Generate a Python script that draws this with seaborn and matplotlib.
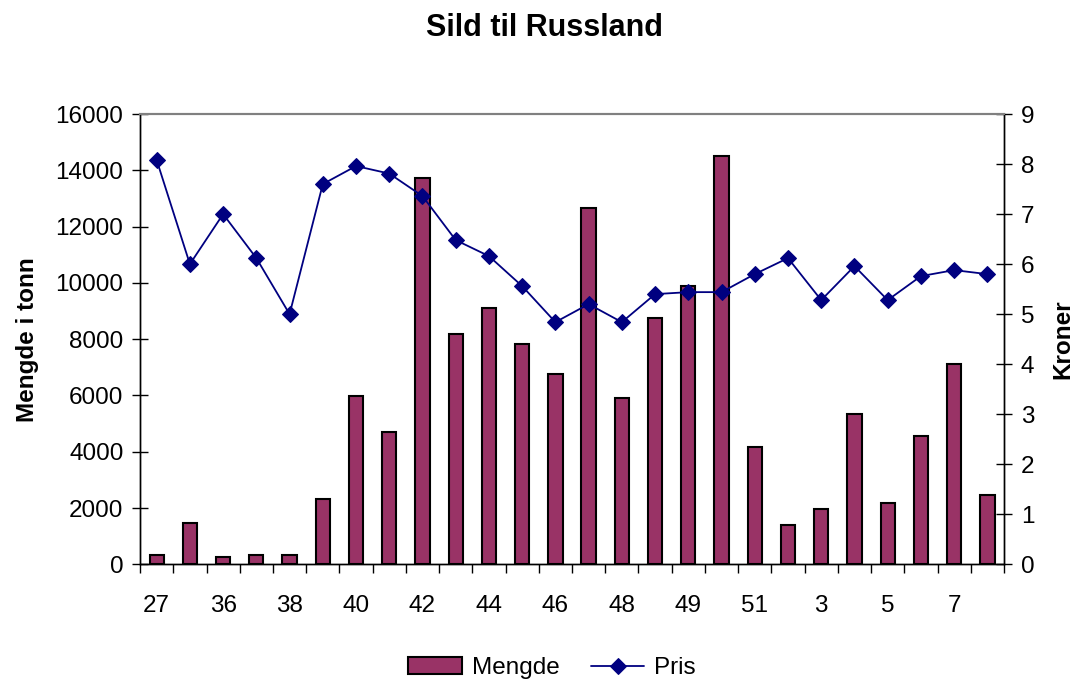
import numpy as np
import pandas as pd
import seaborn as sns
import matplotlib.pyplot as plt
from matplotlib.ticker import FixedLocator

# data (week numbers, tonnes, price in NOK)
uke_labels = ['27', '36', '38', '40', '42', '44', '46', '48', '49', '51', '3', '5', '7']
mengde = [330, 1480, 260, 330, 330, 2330, 5970, 4690, 13730, 8180,
          9110, 7820, 6760, 12660, 5900, 8740, 9900, 14520, 4180, 1410,
          1980, 5330, 2190, 4550, 7110, 2470]
pris = [8.08, 6.00, 7.00, 6.12, 5.00, 7.60, 7.96, 7.81, 7.36, 6.48,
        6.16, 5.56, 4.84, 5.20, 4.84, 5.40, 5.44, 5.44, 5.80, 6.12,
        5.28, 5.96, 5.28, 5.76, 5.88, 5.80]

df = pd.DataFrame({'pos': np.arange(len(mengde)), 'Mengde': mengde, 'Pris': pris})

sns.set_style('white')
plt.rcParams['font.family'] = ['Liberation Sans', 'DejaVu Sans']
for key in ('text.color', 'axes.labelcolor', 'xtick.color', 'ytick.color'):
    plt.rcParams[key] = 'black'

fig, ax = plt.subplots(figsize=(10.74, 6.82), dpi=100)
fig.subplots_adjust(left=0.1304, right=0.9348, bottom=0.1726, top=0.8328)

sns.barplot(data=df, x='pos', y='Mengde', ax=ax, color='#993366', saturation=1,
            width=0.43, edgecolor='black', linewidth=1.5, label='Mengde')
ax.set_xlim(-0.5, len(mengde) - 0.5)
ax.set_ylim(0, 16000)
ax.set_yticks(range(0, 16001, 2000))
ax.set_xticks(np.arange(0, len(mengde), 2))
ax.set_xticklabels(uke_labels)
ax.xaxis.set_minor_locator(FixedLocator(np.arange(-0.5, len(mengde), 1)))
ax.tick_params(axis='x', which='major', length=0, labelsize=17.5, pad=22)
ax.tick_params(axis='x', which='minor', length=6.5, width=1, direction='out', bottom=True)
ax.tick_params(axis='y', direction='inout', length=12, width=1, labelsize=17.5, left=True, pad=6)
ax.set_xlabel('')
ax.set_ylabel('Mengde i tonn', fontsize=17.5, fontweight='bold', labelpad=12)

ax2 = ax.twinx()
sns.lineplot(data=df, x='pos', y='Pris', ax=ax2, color='#000080', marker='D',
             markersize=8.5, markeredgecolor='#000080', linewidth=1.3, label='Pris')
ax2.set_ylim(0, 9)
ax2.set_yticks(range(0, 10))
ax2.tick_params(axis='y', direction='inout', length=12, width=1, labelsize=17.5, right=True, pad=6)
ax2.set_ylabel('Kroner', fontsize=17.5, fontweight='bold', labelpad=12)
ax2.set_xlabel('')
ax2.get_legend().remove()

for a in (ax, ax2):
    for side in ('left', 'right', 'bottom'):
        a.spines[side].set_color('black')
        a.spines[side].set_linewidth(1)
    a.spines['top'].set_color('#808080')
    a.spines['top'].set_linewidth(1.5)

h1, l1 = ax.get_legend_handles_labels()
h2, l2 = ax2.get_legend_handles_labels()
if ax.get_legend() is not None:
    ax.get_legend().remove()
fig.legend(h1 + h2, l1 + l2, loc='center', bbox_to_anchor=(0.514, 0.02), ncol=2,
           frameon=False, fontsize=17.5, handlelength=2.2, handleheight=0.7,
           columnspacing=1.3, handletextpad=0.4)

fig.suptitle('Sild til Russland', x=0.507, y=1 - 28 / 682, va='center',
             fontsize=22, fontweight='bold')

fig.savefig('out.png', dpi=100)
